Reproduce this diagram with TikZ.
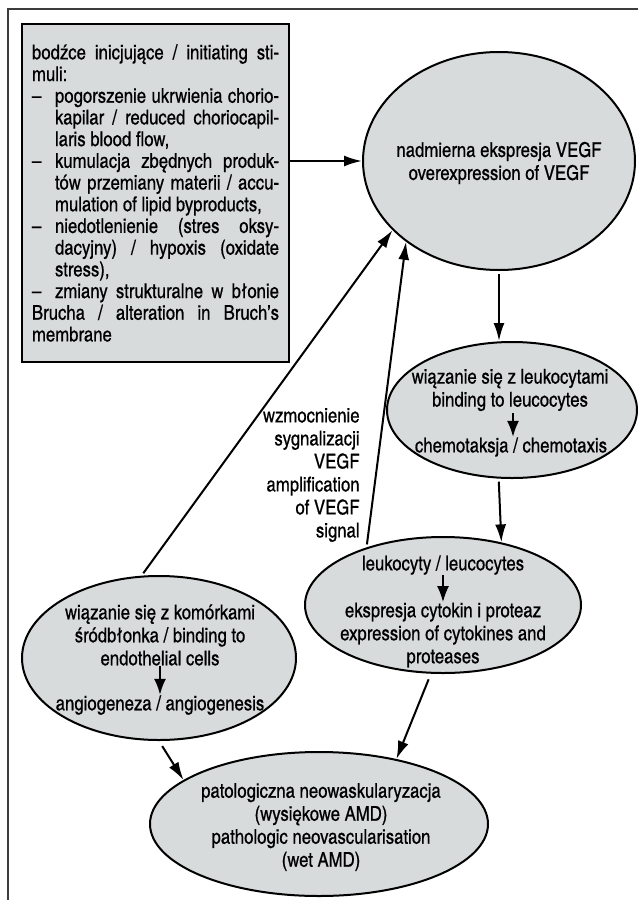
\documentclass[tikz,border=0pt]{standalone}
\usepackage{fontspec}
\setmainfont{texgyreheroscn}[Extension=.otf,UprightFont=*-regular,BoldFont=*-bold,ItalicFont=*-italic,BoldItalicFont=*-bolditalic,FakeBold=0.6]
\usetikzlibrary{shapes.geometric,arrows.meta,calc}

\definecolor{blobgrey}{RGB}{216,219,220}
\definecolor{framegrey}{RGB}{60,60,60}

\newcommand{\stimitem}{\hangindent=11.5pt\hangafter=1\noindent\makebox[11.5pt][l]{--}}

\tikzset{
  blob/.style={ellipse,draw,fill=blobgrey,line width=1pt,inner sep=0pt},
  stimbox/.style={draw,fill=blobgrey,line width=1.4pt,text width=123.5pt,inner xsep=5pt,
    minimum width=133.5pt,minimum height=169pt,align=justify,
    font=\fontsize{10.2}{10.85}\selectfont},
  txt/.style={align=center,inner sep=0pt},
  flow/.style={-{Latex[length=9pt,width=5.5pt]},line width=1pt},
  tinyflow/.style={-{Latex[length=8pt,width=6pt]},line width=1pt},
}

\begin{document}
\begin{tikzpicture}[x=0.5pt,y=-0.5pt,font=\fontsize{10.2}{11.5}\selectfont]
\useasboundingbox (0,0) rectangle (638,900);
% page frame
\draw[framegrey,line width=1pt] (8,900) -- (8,9) -- (638,9);

% initiating stimuli
\node[stimbox] (stim) at (155.5,193) {bodźce inicjujące / initiating sti-\linebreak muli:\par
\stimitem pogorszenie ukrwienia chorio-\linebreak kapilar / reduced choriocapil-\linebreak laris blood flow,\par
\stimitem kumulacja zbędnych produk-\linebreak tów przemiany materii / accu-\linebreak mulation of lipid byproducts,\par
\stimitem niedotlenienie (stres oksy-\linebreak dacyjny) / hypoxis (oxidate\linebreak stress),\par
\stimitem zmiany strukturalne w błonie\linebreak Brucha / alteration in Bruch’s\linebreak membrane};

% ellipses
\node[blob,minimum width=136pt,minimum height=109pt] (vegf) at (499,161) {};
\node[txt] (vegftxt) at (499,163) {nadmierna ekspresja VEGF\\overexpression of VEGF};

\node[blob,minimum width=125pt,minimum height=68pt] (leuk) at (512,410) {};
\node[txt] (leuka) at (510,390) {wiązanie się z leukocytami\\binding to leucocytes};
\node[txt] (leukb) at (511,447) {chemotaksja / chemotaxis};

\node[blob,minimum width=138pt,minimum height=68pt] (cyto) at (443,605) {};
\node[txt] (cytoa) at (443,565) {leukocyty / leucocytes};
\node[txt] (cytob) at (443,635) {ekspresja cytokin i proteaz\\expression of cytokines and\\proteases};

\node[blob,minimum width=137pt,minimum height=82pt] (endo) at (159,658) {};
\node[txt] (endoa) at (160,635) {wiązanie się z komórkami\\śródbłonka / binding to\\endothelial cells};
\node[txt] (endob) at (160,705) {angiogeneza / angiogenesis};

\node[blob,minimum width=169pt,minimum height=72pt] (amd) at (319,824) {};
\node[txt] (amdtxt) at (321,827) {patologiczna neowaskularyzacja\\(wysiękowe AMD)\\pathologic neovascularisation\\(wet AMD)};

\node[txt,anchor=east,align=right] (ampl) at (360,475) {wzmocnienie\\sygnalizacji\\VEGF\\amplification\\of VEGF\\signal};

% arrows
\draw[flow] (stim.east |- vegf.180) -- (vegf.180);
\draw[flow,shorten <=1.5pt] (vegf.south) -- (vegf.south |- leuk.north);
\draw[flow,shorten <=1.5pt] (leuk.259) -- (cyto.47.4);
\draw[flow,shorten <=1.5pt] (endo.102.6) -- (vegf.213);
\draw[flow,shorten <=1.5pt] (cyto.143.5) -- (vegf.221.6);
\draw[flow,shorten <=3pt] (endo.south) -- (amd.162.4);
\draw[flow,shorten <=3pt] (cyto.260) -- (amd.40.7);

\draw[tinyflow,shorten <=1pt] (leuka.south -| leukb.north) ++(2,0) coordinate (la) (la) -- (la |- leukb.north);
\draw[tinyflow] (cytoa.south) -- (cytob.north);
\draw[tinyflow] (endoa.south -| endob.north) -- (endob.north);
\end{tikzpicture}
\end{document}
